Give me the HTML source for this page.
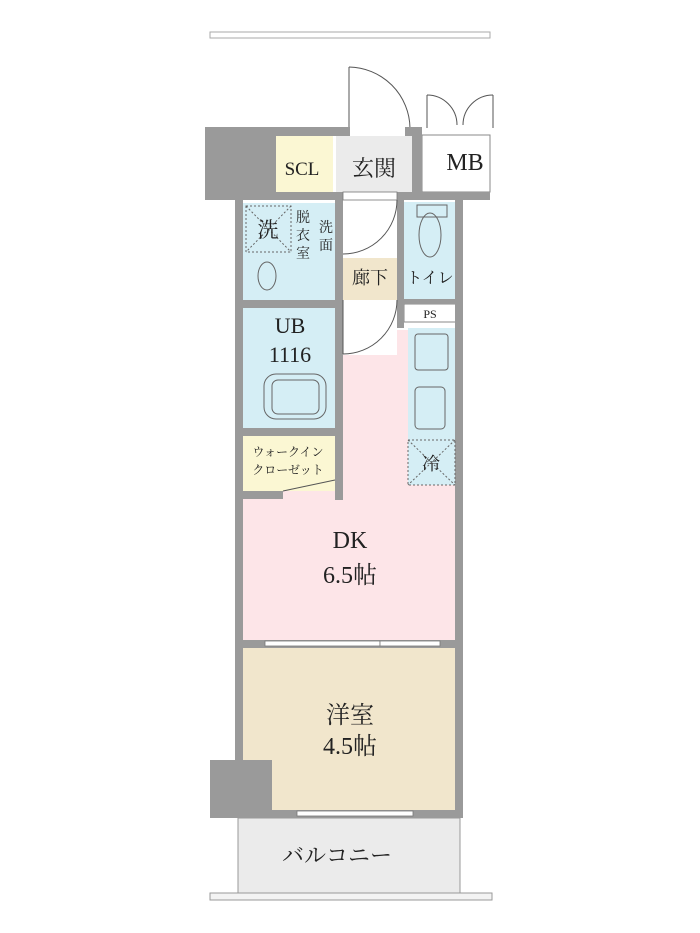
<!DOCTYPE html>
<html><head><meta charset="utf-8"><style>
html,body{margin:0;padding:0;background:#fff;}
svg{display:block;}
text{font-family:"Liberation Serif","Noto Serif CJK JP","Noto Serif CJK SC",serif;fill:#222;}
.j{font-family:"Liberation Serif","Noto Serif CJK JP","Noto Serif CJK SC",serif;}
.k{font-family:"Liberation Sans","Noto Sans CJK JP",sans-serif;}
</style></head><body>
<svg width="700" height="933" viewBox="0 0 700 933" xmlns="http://www.w3.org/2000/svg">
<rect x="210" y="32" width="280" height="6" fill="#fff" stroke="#aaa" stroke-width="1"/>
<g fill="none" stroke="#555" stroke-width="1">
<line x1="349" y1="67" x2="349" y2="128"/>
<path d="M349 67 A62 62 0 0 1 410 128"/>
<line x1="427" y1="95" x2="427" y2="128"/>
<path d="M427 95 A30 30 0 0 1 457 125"/>
<line x1="493" y1="95" x2="493" y2="128"/>
<path d="M493 95 A30 30 0 0 0 463 125"/>
</g>
<rect x="243" y="330" width="212" height="312" fill="#fde5e8"/>
<rect x="243" y="648" width="212" height="163" fill="#f1e6cc"/>
<rect x="238" y="818" width="222" height="75" fill="#ebebeb" stroke="#999" stroke-width="1"/>
<rect x="276" y="136" width="57" height="56" fill="#fbf7d3"/>
<rect x="336" y="136" width="76" height="56" fill="#ebebeb"/>
<rect x="422" y="135" width="68" height="57" fill="#fff" stroke="#888"/>
<rect x="243" y="203" width="92" height="97" fill="#d5eef5"/>
<rect x="343" y="200" width="54" height="100" fill="#fff"/>
<rect x="343" y="258" width="54" height="42" fill="#f1e6cc"/>
<rect x="404" y="202" width="52" height="97" fill="#d5eef5"/>
<rect x="404" y="304" width="52" height="18" fill="#fff" stroke="#888"/>
<rect x="243" y="308" width="92" height="120" fill="#d5eef5"/>
<rect x="343" y="300" width="54" height="55" fill="#fff"/>
<rect x="243" y="436" width="92" height="55" fill="#fbf7d3"/>
<rect x="408" y="328" width="47" height="157" fill="#d5eef5"/>
<g fill="#9a9a9a">
<rect x="205" y="127" width="71" height="73"/>
<rect x="205" y="127" width="145" height="9"/>
<rect x="205" y="192" width="140" height="8"/>
<rect x="405" y="127" width="17" height="9"/>
<rect x="412" y="127" width="10" height="73"/>
<rect x="397" y="192" width="93" height="8"/>
<rect x="235" y="200" width="8" height="612"/>
<rect x="335" y="200" width="8" height="300"/>
<rect x="397" y="200" width="7" height="128"/>
<rect x="455" y="200" width="8" height="612"/>
<rect x="243" y="300" width="92" height="8"/>
<rect x="243" y="428" width="92" height="8"/>
<rect x="243" y="491" width="40" height="8"/>
<rect x="404" y="299" width="51" height="5"/>
<rect x="243" y="640" width="212" height="8"/>
<rect x="210" y="760" width="62" height="58"/>
<rect x="243" y="810" width="220" height="8"/>
</g>
<g fill="#fff" stroke="#777" stroke-width="0.8">
<rect x="265" y="641" width="115" height="5"/>
<rect x="380" y="641" width="60" height="5"/>
<rect x="297" y="811" width="116" height="5"/>
<rect x="343" y="192" width="54" height="8"/>
</g>
<rect x="210" y="893" width="282" height="7" fill="#f3f3f3" stroke="#999"/>
<g fill="none" stroke="#555" stroke-width="1">
<path d="M397 200 A54 54 0 0 1 343 254"/>
<path d="M397 300 A54 54 0 0 1 343 354"/>
<line x1="343" y1="354" x2="343" y2="300"/>
<line x1="283" y1="491" x2="335" y2="480"/>
</g>
<g fill="none" stroke="#666" stroke-width="1">
<rect x="246" y="206" width="45" height="46" stroke-dasharray="2,2"/>
<line x1="246" y1="206" x2="291" y2="252" stroke-dasharray="2,2"/>
<line x1="291" y1="206" x2="246" y2="252" stroke-dasharray="2,2"/>
<ellipse cx="267" cy="276" rx="9" ry="14"/>
<rect x="417" y="205" width="30" height="12"/>
<ellipse cx="430" cy="235" rx="11" ry="22"/>
<rect x="264" y="374" width="62" height="45" rx="12"/>
<rect x="272" y="380" width="47" height="34" rx="6"/>
<rect x="415" y="334" width="33" height="36" rx="3"/>
<rect x="415" y="387" width="30" height="42" rx="4"/>
<rect x="408" y="440" width="47" height="45" stroke-dasharray="2,2"/>
<line x1="408" y1="440" x2="455" y2="485" stroke-dasharray="2,2"/>
<line x1="455" y1="440" x2="408" y2="485" stroke-dasharray="2,2"/>
</g>
<text x="302" y="175" font-size="19" text-anchor="middle">SCL</text>
<text x="374" y="176" font-size="22" text-anchor="middle" class="j">玄関</text>
<text x="465" y="170" font-size="24" text-anchor="middle">MB</text>
<text x="268" y="237" font-size="21" text-anchor="middle" class="j">洗</text>
<text x="303" y="222" font-size="14" text-anchor="middle" class="j">脱</text>
<text x="303" y="240" font-size="14" text-anchor="middle" class="j">衣</text>
<text x="303" y="258" font-size="14" text-anchor="middle" class="j">室</text>
<text x="326" y="232" font-size="14" text-anchor="middle" class="j">洗</text>
<text x="326" y="250" font-size="14" text-anchor="middle" class="j">面</text>
<text x="370" y="284" font-size="18" text-anchor="middle" class="j">廊下</text>
<text x="430" y="283" font-size="16" text-anchor="middle" class="j">トイレ</text>
<text x="430" y="318" font-size="12" text-anchor="middle">PS</text>
<text x="290" y="333" font-size="22" text-anchor="middle">UB</text>
<text x="290" y="362" font-size="22" text-anchor="middle">1116</text>
<text x="288" y="456" font-size="12" text-anchor="middle" class="j">ウォークイン</text>
<text x="288" y="474" font-size="12" text-anchor="middle" class="j">クローゼット</text>
<text x="431" y="470" font-size="18" text-anchor="middle" class="j">冷</text>
<text x="350" y="548" font-size="24" text-anchor="middle">DK</text>
<text x="350" y="583" font-size="24" text-anchor="middle" class="j">6.5帖</text>
<text x="350" y="723" font-size="24" text-anchor="middle" class="j">洋室</text>
<text x="350" y="754" font-size="24" text-anchor="middle" class="j">4.5帖</text>
<text x="337" y="863" font-size="22" text-anchor="middle" class="j">バルコニー</text>
</svg>
</body></html>
